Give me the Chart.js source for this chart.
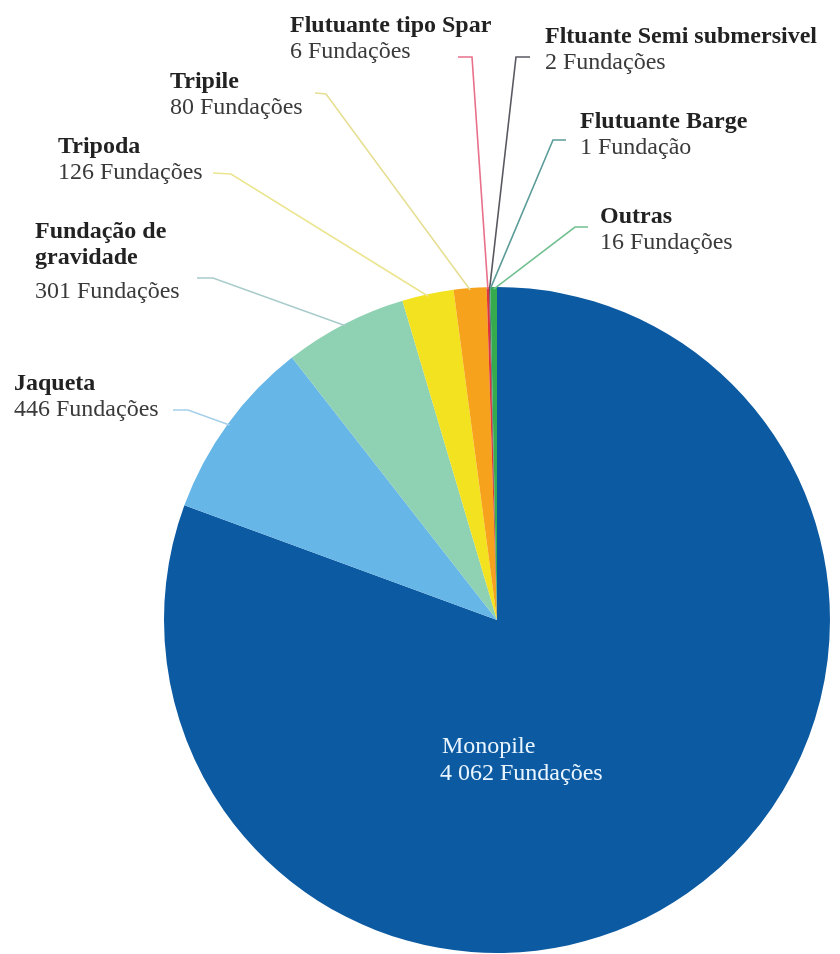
<!DOCTYPE html>
<html lang="pt">
<head>
<meta charset="utf-8">
<title>Fundações offshore</title>
<script src="https://cdn.jsdelivr.net/npm/chart.js@4/dist/chart.umd.min.js"></script>
<style>
  html, body { margin: 0; padding: 0; background: #ffffff; }
  #wrap { position: relative; width: 840px; height: 954px; }
</style>
</head>
<body>
<div id="wrap"><canvas id="pie"></canvas></div>
<script>
// Foundation types (clockwise from 12 o'clock) and their counts
const categories = [
  'Monopile',
  'Jaqueta',
  'Fundação de\ngravidade',
  'Tripoda',
  'Tripile',
  'Flutuante tipo Spar',
  'Fltuante Semi submersivel',
  'Flutuante Barge',
  'Outras'
];
const counts = [4062, 446, 301, 126, 80, 6, 2, 1, 16];

const sliceColors = [
  '#0c5aa2', '#66b6e8', '#8fd1b3', '#f3e21f', '#f6a21d',
  '#e0333c', '#3c3c44', '#1f8a86', '#35ab4e'
];
const leaderColors = [
  null, '#a6cfea', '#a9cccb', '#ebe58f', '#e6df93',
  '#e8708a', '#585860', '#5c9c98', '#72c090'
];

// Where each callout text block sits (left x, first baseline) and its leader hook
const calloutLayout = [
  { x: 442, y: 753, inside: true },
  { x: 14,  y: 390, hook: [[173, 410], [188, 410]] },
  { x: 35,  y: 238, hook: [[197, 278], [213, 278]] },
  { x: 58,  y: 153, hook: [[213, 173], [231, 174]] },
  { x: 170, y: 88,  hook: [[315, 93], [326, 94]] },
  { x: 290, y: 32,  hook: [[458, 57], [472, 57]], lineFrom: 1 },
  { x: 545, y: 43,  hook: [[530, 57], [516, 57]], lineFrom: 1 },
  { x: 580, y: 128, hook: [[566, 140], [553, 140]], lineFrom: 1 },
  { x: 600, y: 223, hook: [[588, 227], [575, 227]], lineFrom: 1 }
];

const TITLE_FONT = 'bold 24px "Liberation Serif", "Times New Roman", serif';
const VALUE_FONT = '24px "Liberation Serif", "Times New Roman", serif';
const LINE_GAP = 26;

function countText(n) {
  const s = String(n).replace(/\B(?=(\d{3})+(?!\d))/g, ' ');
  return s + (n === 1 ? ' Fundação' : ' Fundações');
}

const callouts = {
  id: 'callouts',
  afterDatasetsDraw(chart) {
    const ctx = chart.ctx;
    const arcs = chart.getDatasetMeta(0).data;
    ctx.save();
    arcs.forEach((arc, i) => {
      const lay = calloutLayout[i];
      const p = arc.getProps(['x', 'y', 'startAngle', 'endAngle', 'outerRadius'], true);
      const mid = (p.startAngle + p.endAngle) / 2;
      const r = p.outerRadius;
      const titleLines = categories[i].split('\n');

      if (lay.inside) {
        ctx.fillStyle = '#eaf6ff';
        ctx.font = VALUE_FONT;
        ctx.textAlign = 'left';
        ctx.textBaseline = 'alphabetic';
        ctx.fillText(titleLines[0], lay.x, lay.y);
        ctx.fillText(countText(counts[i]), lay.x - 2, lay.y + 27);
        return;
      }

      // leader: short hook, then straight to the slice edge at its mid angle
      const tip = { x: p.x + Math.cos(mid) * (r - 2), y: p.y + Math.sin(mid) * (r - 2) };
      const [a, b] = lay.hook;
      const start = lay.lineFrom ? b : b;
      ctx.strokeStyle = leaderColors[i];
      ctx.lineWidth = 1.6;
      ctx.beginPath();
      ctx.moveTo(a[0], a[1]);
      ctx.lineTo(start[0], start[1]);
      ctx.lineTo(tip.x, tip.y);
      ctx.stroke();

      ctx.textAlign = 'left';
      ctx.textBaseline = 'alphabetic';
      let y = lay.y;
      ctx.fillStyle = '#222222';
      ctx.font = TITLE_FONT;
      titleLines.forEach((t, k) => {
        ctx.fillText(t, lay.x, y);
        y += LINE_GAP;
      });
      if (titleLines.length > 1) y += 8;
      ctx.fillStyle = '#3a3a3a';
      ctx.font = VALUE_FONT;
      ctx.fillText(countText(counts[i]), lay.x, y);
    });
    ctx.restore();
  }
};

new Chart(document.getElementById('pie'), {
  type: 'pie',
  data: {
    labels: categories.map(c => c.replace('\n', ' ')),
    datasets: [{
      data: counts,
      backgroundColor: sliceColors,
      borderWidth: 0
    }]
  },
  options: {
    responsive: true,
    maintainAspectRatio: false,
    animation: false,
    layout: { padding: { top: 287, left: 164, right: 10, bottom: 1 } },
    plugins: {
      legend: { display: false },
      tooltip: { enabled: false }
    }
  },
  plugins: [callouts]
});
</script>
</body>
</html>
